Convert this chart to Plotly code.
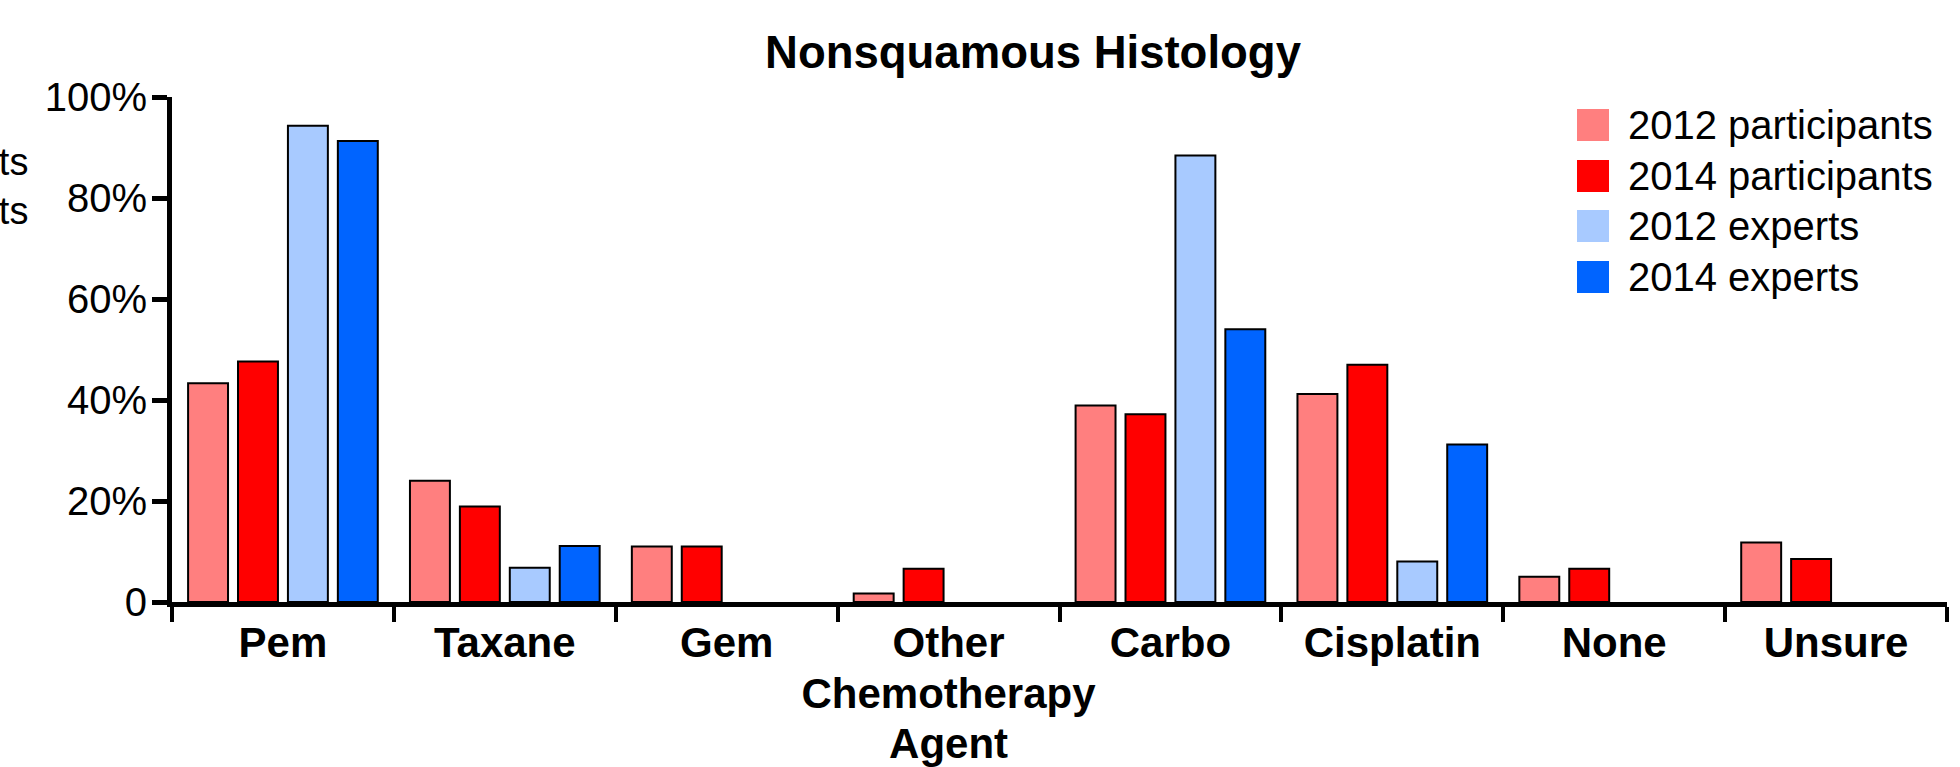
import plotly.graph_objects as go

categories = ["Pem", "Taxane", "Gem", "Other<br>Chemotherapy<br>Agent", "Carbo", "Cisplatin", "None", "Unsure"]
series_names = ["2012 participants", "2014 participants", "2012 experts", "2014 experts"]
p2012 = [43.3, 24.0, 11.0, 1.7, 38.9, 41.2, 5.0, 11.8]
p2014 = [47.6, 18.9, 11.0, 6.6, 37.2, 47.0, 6.6, 8.5]
e2012 = [94.3, 6.8, None, None, 88.4, 8.0, None, None]
e2014 = [91.3, 11.1, None, None, 54.0, 31.2, None, None]
colors = ["#FF7F7F", "#FF0000", "#A8CAFF", "#0064FF"]
y_tickvals = [0, 20, 40, 60, 80, 100]
y_ticktext = ["0", "20%", "40%", "60%", "80%", "100%"]

FONT = "Liberation Sans, Arial, sans-serif"
W, H = 1960, 767
L, R, T, B = 172, 13, 97, 165

fig = go.Figure()
for name, vals, col in zip(series_names, [p2012, p2014, e2012, e2014], colors):
    fig.add_trace(go.Bar(
        x=categories, y=vals, name=name, showlegend=False,
        marker=dict(color=col, line=dict(color="black", width=2)),
    ))

# custom legend (large square swatches)
pw = W - L - R
ph = H - T - B
def px_x(x):
    return (x - L) / pw
def px_y(y):
    return (H - B - y) / ph
row_centers = [125, 176, 226, 277]
for name, col, yc in zip(series_names, colors, row_centers):
    fig.add_shape(type="rect", xref="paper", yref="paper",
                  x0=px_x(1577), x1=px_x(1609), y0=px_y(yc + 16), y1=px_y(yc - 16),
                  fillcolor=col, line=dict(width=0))
    fig.add_annotation(xref="paper", yref="paper", x=px_x(1626), y=px_y(yc),
                       xanchor="left", yanchor="middle", text=name, showarrow=False,
                       font=dict(family=FONT, size=40, color="black"))

# partially visible label at far left (cut off in the original)
fig.add_annotation(xref="paper", yref="paper", x=px_x(30), y=px_y(186),
                   xanchor="right", yanchor="middle", align="right",
                   text="2012 participants<br>2014 participants", showarrow=False,
                   font=dict(family=FONT, size=38, color="black"))

def cat_label(c):
    return "<br>".join(f"<b><span style='font-size:42px'>{part}</span></b>" for part in c.split("<br>"))

fig.update_layout(
    width=W, height=H,
    margin=dict(l=L, r=R, t=T, b=B, pad=0, autoexpand=False),
    paper_bgcolor="white", plot_bgcolor="white",
    barmode="group", bargap=0.1, bargroupgap=0.2,
    title=dict(text="<b>Nonsquamous Histology</b>", x=1033 / W, xanchor="center",
               y=1 - 52 / H, yanchor="middle", xref="container", yref="container",
               font=dict(family=FONT, size=45.5, color="black")),
    font=dict(family=FONT, color="black"),
)
fig.update_yaxes(range=[0, 100], tickvals=y_tickvals, ticktext=y_ticktext, automargin=False,
                 showgrid=False, zeroline=False, showline=True, linecolor="black", linewidth=5,
                 ticks="outside", ticklen=15, tickwidth=5, tickcolor="black",
                 tickfont=dict(family=FONT, size=40, color="black"), ticklabelstandoff=-3)
fig.update_xaxes(showgrid=False, showline=True, linecolor="black", linewidth=5, automargin=False,
                 ticks="outside", tickson="boundaries", ticklen=15, tickwidth=4, tickcolor="black",
                 tickfont=dict(family=FONT, size=39, color="black"), tickangle=0,
                 ticklabelstandoff=3)
fig.for_each_xaxis(lambda a: a.update(ticktext=[cat_label(c) for c in categories], tickvals=categories))

fig.write_html("out.html", config={"displayModeBar": False},
               post_script="document.body.style.margin='0';document.body.style.overflow='hidden';")
